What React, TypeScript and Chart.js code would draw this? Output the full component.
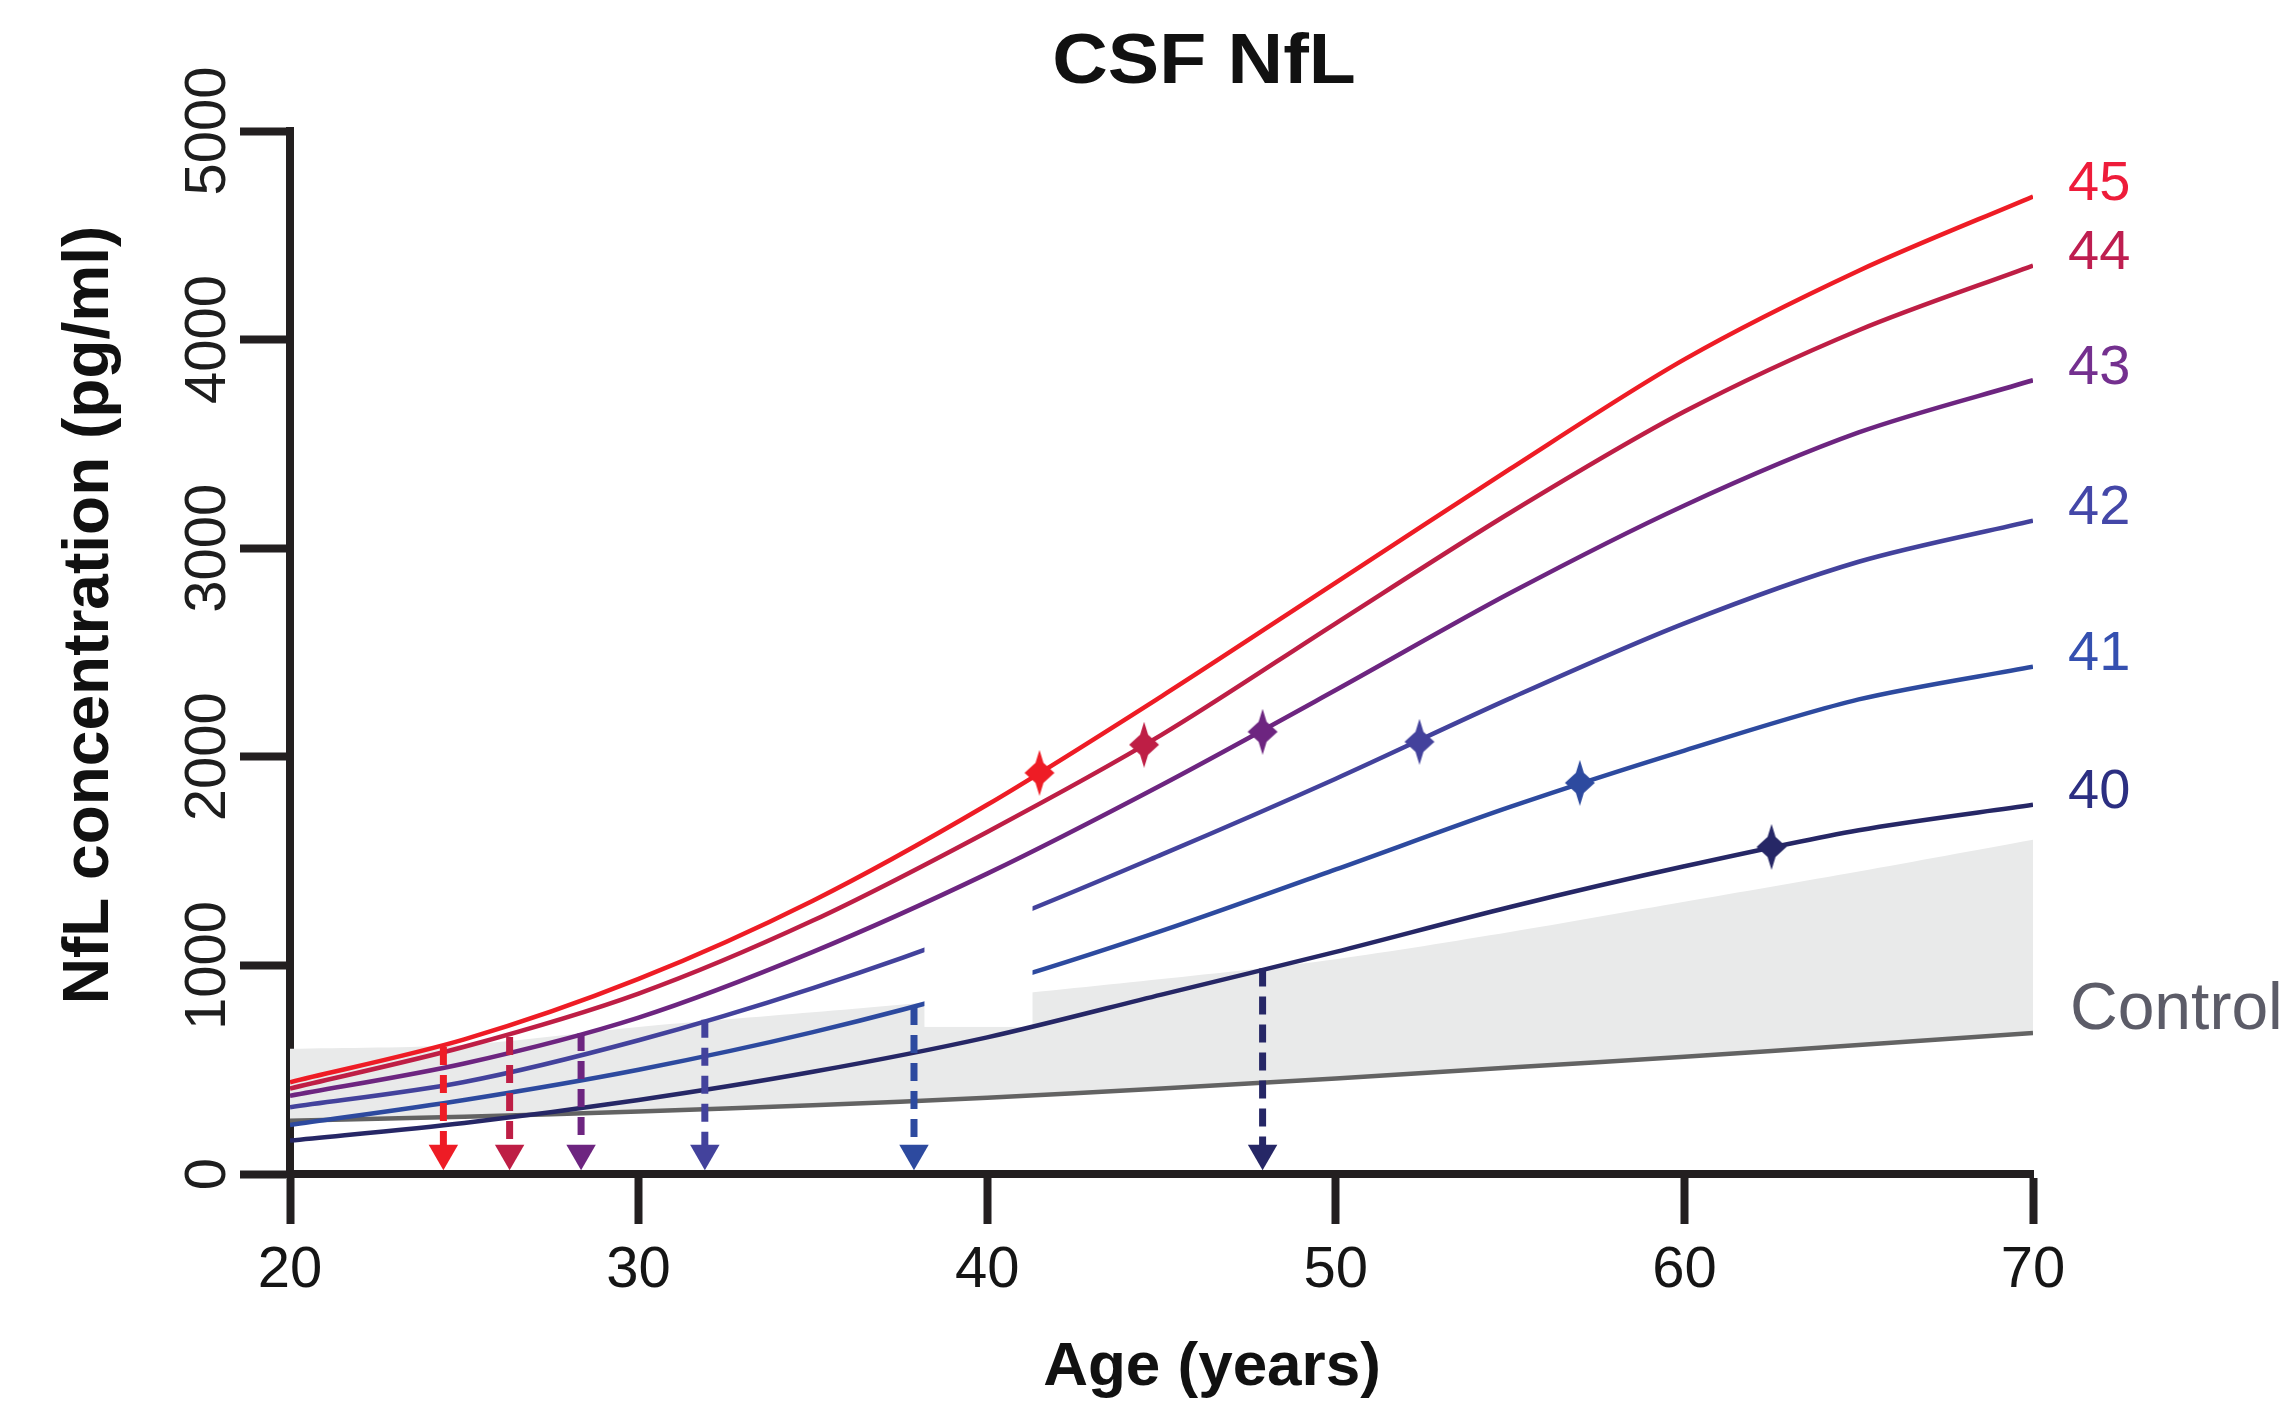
import React, { useEffect, useRef } from 'react';
import { Chart, registerables } from 'chart.js';

Chart.register(...registerables);

// ---------- data ----------
const AGES = [20, 25, 30, 35, 40, 45, 50, 55, 60, 65, 70];
const SERIES_LABELS = ['45', '44', '43', '42', '41', '40'];
const NFL_45 = [440, 645, 935, 1310, 1770, 2290, 2835, 3380, 3905, 4330, 4686];
const NFL_44 = [410, 610, 865, 1215, 1640, 2105, 2640, 3170, 3655, 4045, 4355];
const NFL_43 = [375, 530, 750, 1065, 1440, 1865, 2320, 2785, 3205, 3555, 3805];
const NFL_42 = [320, 441, 641, 891, 1186, 1531, 1895, 2280, 2640, 2935, 3132];
const NFL_41 = [235, 355, 500, 680, 900, 1165, 1460, 1760, 2030, 2275, 2432];
const NFL_40 = [160, 245, 355, 490, 655, 860, 1065, 1280, 1475, 1648, 1770];
const CONTROL = [255, 275, 300, 330, 365, 410, 458, 510, 562, 618, 676];
const CONTROL_UPPER = [600, 620, 705, 775, 850, 935, 1030, 1160, 1305, 1450, 1602];

const MARKER_AGES = [41.5, 44.5, 47.9, 52.4, 57.0, 62.5];
const MARKER_VALUES = [1923, 2058, 2120, 2072, 1875, 1568];

const ARROW_AGES = [24.4, 26.3, 28.35, 31.9, 37.9, 47.9];
const ARROW_TOPS = [609, 657, 676, 739, 801, 985];
const ARROW_HEAD_VALUE = 100;

const GAP_AGES = [38.2, 41.3];
const GAP_VALUES = [705, 1400];

const X_TICKS = [20, 30, 40, 50, 60, 70];
const Y_TICKS = [0, 1000, 2000, 3000, 4000, 5000];

const TITLE = 'CSF NfL';
const X_TITLE = 'Age (years)';
const Y_TITLE = 'NfL concentration (pg/ml)';
const CONTROL_LABEL = 'Control';

// ---------- styles ----------
const COLORS = ['#ee1c25', '#be1e45', '#6d2580', '#43429c', '#2d4a9f', '#262766'];
const LABEL_COLORS = ['#ee1c3a', '#be1e50', '#74308f', '#4447a8', '#3550b0', '#2c2f82'];
const CONTROL_COLOR = '#636363';
const BAND_COLOR = '#e9eaea';
const AXIS_COLOR = '#231f20';
const FONT = '"Liberation Sans", Arial, Helvetica, sans-serif';
const W = 2285;
const H = 1405;

function makeMarker(color: string) {
  const c = document.createElement('canvas');
  c.width = 32;
  c.height = 46;
  const g = c.getContext('2d')!;
  g.fillStyle = color;
  const cx = 16, cy = 23;
  g.beginPath();
  g.moveTo(cx, 0);
  g.lineTo(cx + 4, cy - 10);
  g.lineTo(cx + 15, cy);
  g.lineTo(cx + 4, cy + 10);
  g.lineTo(cx, 46);
  g.lineTo(cx - 4, cy + 10);
  g.lineTo(cx - 15, cy);
  g.lineTo(cx - 4, cy - 10);
  g.closePath();
  g.fill();
  g.fillRect(cx - 7, cy - 7, 14, 14);
  return c;
}

export default function App() {
  const ref = useRef<HTMLCanvasElement | null>(null);

  useEffect(() => {
    document.body.style.margin = '0';
    document.body.style.overflow = 'hidden';
    const canvas = ref.current;
    if (!canvas) return;

    const seriesValues = [NFL_45, NFL_44, NFL_43, NFL_42, NFL_41, NFL_40];
    const seriesOrder = [30, 40, 50, 70, 80, 60];
    const pts = (ys: number[]) => AGES.map((a, i) => ({ x: a, y: ys[i] }));

    const datasets: any[] = [];
    datasets.push({
      label: 'band',
      data: pts(CONTROL_UPPER),
      borderWidth: 0,
      borderColor: 'rgba(0,0,0,0)',
      backgroundColor: BAND_COLOR,
      pointRadius: 0,
      fill: 1,
      tension: 0.3,
      order: 100,
    });
    datasets.push({
      label: 'Control',
      data: pts(CONTROL),
      borderColor: CONTROL_COLOR,
      borderWidth: 4.5,
      pointRadius: 0,
      fill: false,
      tension: 0.3,
      order: 90,
    });
    SERIES_LABELS.forEach((lab, i) => {
      datasets.push({
        label: lab,
        data: pts(seriesValues[i]),
        borderColor: COLORS[i],
        borderWidth: 4.5,
        pointRadius: 0,
        fill: false,
        tension: 0.3,
        order: seriesOrder[i],
      });
    });
    datasets.push({
      label: 'markers',
      data: MARKER_AGES.map((a, i) => ({ x: a, y: MARKER_VALUES[i] })),
      showLine: false,
      pointStyle: COLORS.map((c) => makeMarker(c)),
      pointRadius: 15,
      order: 10,
    });
    ARROW_AGES.forEach((a, i) => {
      datasets.push({
        label: 'arrow' + SERIES_LABELS[i],
        data: [
          { x: a, y: ARROW_TOPS[i] },
          { x: a, y: ARROW_HEAD_VALUE },
        ],
        borderColor: COLORS[i],
        borderWidth: 7,
        borderDash: [18, 10],
        borderCapStyle: 'butt',
        pointRadius: [0, 17],
        pointStyle: 'triangle',
        pointRotation: 180,
        pointBackgroundColor: COLORS[i],
        pointBorderWidth: 0,
        fill: false,
        order: 5,
      });
    });

    const gapPlugin = {
      id: 'gapBox',
      beforeDatasetDraw(chart: any, args: any) {
        const ds = chart.data.datasets[args.index];
        if (ds.label !== '40') return;
        const { ctx, scales } = chart;
        const x0 = scales.x.getPixelForValue(GAP_AGES[0]);
        const x1 = scales.x.getPixelForValue(GAP_AGES[1]);
        const y0 = scales.y.getPixelForValue(GAP_VALUES[1]);
        const y1 = scales.y.getPixelForValue(GAP_VALUES[0]);
        ctx.save();
        ctx.fillStyle = '#ffffff';
        ctx.fillRect(x0, y0, x1 - x0, y1 - y0);
        ctx.restore();
      },
    };

    const textPlugin = {
      id: 'texts',
      afterDraw(chart: any) {
        const { ctx, scales, chartArea } = chart;
        ctx.save();
        ctx.fillStyle = '#111111';
        ctx.textAlign = 'center';
        ctx.textBaseline = 'middle';
        ctx.save();
        ctx.translate(1204, 64);
        ctx.scale(1.1, 1);
        ctx.font = `bold 70px ${FONT}`;
        ctx.fillText(TITLE, 0, 0);
        ctx.restore();
        ctx.font = `bold 62px ${FONT}`;
        ctx.fillText(X_TITLE, 1212, 1368);
        ctx.save();
        ctx.translate(90, 615);
        ctx.rotate(-Math.PI / 2);
        ctx.font = `bold 64px ${FONT}`;
        ctx.fillText(Y_TITLE, 0, 0);
        ctx.restore();

        ctx.textAlign = 'left';
        ctx.font = `56px ${FONT}`;
        const lx = chartArea.right + 35;
        SERIES_LABELS.forEach((lab, i) => {
          const vals = seriesValues[i];
          const y = scales.y.getPixelForValue(vals[vals.length - 1]) - 12;
          ctx.fillStyle = LABEL_COLORS[i];
          ctx.fillText(lab, lx, y);
        });
        ctx.fillStyle = '#5c5c68';
        ctx.font = `66px ${FONT}`;
        const cy = scales.y.getPixelForValue(CONTROL[CONTROL.length - 1]) - 22;
        ctx.fillText(CONTROL_LABEL, lx + 2, cy);
        ctx.restore();
      },
    };

    const chart = new Chart(canvas, {
      type: 'line',
      data: { datasets },
      options: {
        animation: false,
        responsive: false,
        events: [],
        layout: { padding: { top: 131, right: W - 2033, left: 0, bottom: 0 } },
        plugins: {
          legend: { display: false },
          tooltip: { enabled: false },
          title: { display: false },
        },
        scales: {
          x: {
            type: 'linear',
            min: 20,
            max: 70,
            afterBuildTicks: (s: any) => {
              s.ticks = X_TICKS.map((v) => ({ value: v }));
            },
            afterFit: (s: any) => {
              s.height = H - 1174;
            },
            ticks: {
              color: '#151515',
              font: { family: FONT, size: 58 },
              padding: 12,
              maxRotation: 0,
              minRotation: 0,
              callback: (v: any) => String(v),
            },
            grid: {
              drawOnChartArea: false,
              drawTicks: true,
              tickLength: 50,
              tickWidth: 8,
              tickColor: AXIS_COLOR,
            },
            border: { display: true, width: 8, color: AXIS_COLOR },
          },
          y: {
            type: 'linear',
            min: 0,
            max: 5000,
            afterBuildTicks: (s: any) => {
              s.ticks = Y_TICKS.map((v) => ({ value: v }));
            },
            afterFit: (s: any) => {
              s.width = 290;
            },
            ticks: {
              color: '#1e1e1e',
              font: { family: FONT, size: 58 },
              minRotation: 90,
              maxRotation: 90,
              crossAlign: 'center',
              padding: -34,
              callback: (v: any) => String(v),
            },
            grid: {
              drawOnChartArea: false,
              drawTicks: true,
              tickLength: 50,
              tickWidth: 8,
              tickColor: AXIS_COLOR,
            },
            border: { display: true, width: 8, color: AXIS_COLOR },
          },
        },
      },
      plugins: [gapPlugin, textPlugin],
    } as any);

    return () => chart.destroy();
  }, []);

  return (
    <div style={{ width: W, height: H, position: 'relative' }}>
      <canvas ref={ref} width={W} height={H} style={{ display: 'block', width: W, height: H }} />
    </div>
  );
}
